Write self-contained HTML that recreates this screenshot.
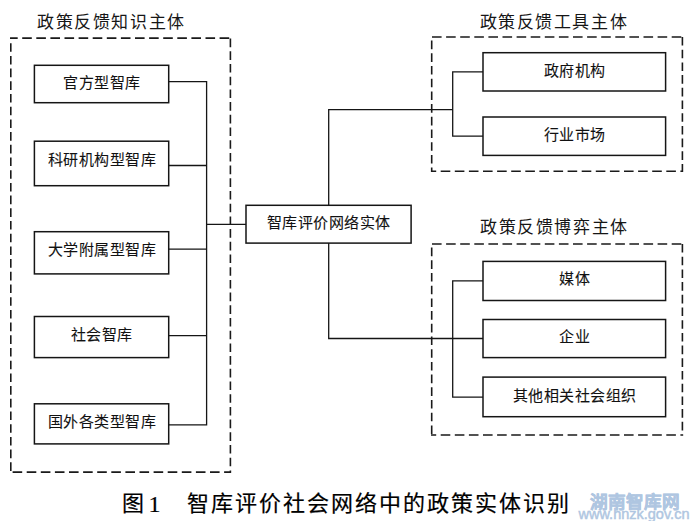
<!DOCTYPE html>
<html lang="zh-CN"><head><meta charset="utf-8">
<style>
html,body{margin:0;padding:0;background:#fff;}
body{width:693px;height:521px;position:relative;overflow:hidden;font-family:"Liberation Sans",sans-serif;color:#111;}
svg{position:absolute;left:0;top:0;}
.t{position:absolute;white-space:nowrap;text-align:center;font-size:15px;line-height:15px;letter-spacing:0.5px;text-indent:0.5px;-webkit-text-stroke:0.1px #111;}
.h{position:absolute;white-space:nowrap;font-family:"Liberation Serif",serif;font-size:17px;line-height:17px;letter-spacing:1.6px;color:#161616;}
.cap{position:absolute;white-space:nowrap;font-size:21px;line-height:21px;color:#000;-webkit-text-stroke:0.2px #000;}
.wm{position:absolute;white-space:nowrap;color:#afc6e1;font-weight:bold;}
</style></head><body>
<svg width="693" height="521" viewBox="0 0 693 521">
<g fill="none" stroke="#1a1a1a" stroke-width="1.6">
<path d="M10.1 38.1H17.7M22.2 38.1H31.8M36.3 38.1H45.9M50.4 38.1H60.0M64.5 38.1H74.1M78.6 38.1H88.2M92.7 38.1H102.3M106.8 38.1H116.4M120.9 38.1H130.5M135.0 38.1H144.6M149.1 38.1H158.7M163.2 38.1H172.8M177.3 38.1H186.9M191.4 38.1H201.0M205.5 38.1H215.1M219.6 38.1H229.2M12.6 472.1H22.2M26.7 472.1H36.3M40.8 472.1H50.4M54.9 472.1H64.5M69.0 472.1H78.6M83.1 472.1H92.7M97.2 472.1H106.8M111.3 472.1H120.9M125.4 472.1H135.0M139.5 472.1H149.1M153.6 472.1H163.2M167.7 472.1H177.3M181.8 472.1H191.4M195.9 472.1H205.5M210.0 472.1H219.6M224.1 472.1H231.1M10.8 37.4V39.1M10.8 43.2V51.8M10.8 55.9V64.5M10.8 68.6V77.2M10.8 81.3V89.9M10.8 94.0V102.6M10.8 106.7V115.3M10.8 119.4V128.0M10.8 132.1V140.7M10.8 144.8V153.4M10.8 157.5V166.1M10.8 170.2V178.8M10.8 182.9V191.5M10.8 195.6V204.2M10.8 208.3V216.9M10.8 221.0V229.6M10.8 233.7V242.3M10.8 246.4V255.0M10.8 259.1V267.7M10.8 271.8V280.4M10.8 284.5V293.1M10.8 297.2V305.8M10.8 309.9V318.5M10.8 322.6V331.2M10.8 335.3V343.9M10.8 348.0V356.6M10.8 360.7V369.3M10.8 373.4V382.0M10.8 386.1V394.7M10.8 398.8V407.4M10.8 411.5V420.1M10.8 424.2V432.8M10.8 436.9V445.5M10.8 449.6V458.2M10.8 462.3V470.9M230.4 38.6V47.2M230.4 51.3V59.9M230.4 64.0V72.6M230.4 76.7V85.3M230.4 89.4V98.0M230.4 102.1V110.7M230.4 114.8V123.4M230.4 127.5V136.1M230.4 140.2V148.8M230.4 152.9V161.5M230.4 165.6V174.2M230.4 178.3V186.9M230.4 191.0V199.6M230.4 203.7V212.3M230.4 216.4V225.0M230.4 229.1V237.7M230.4 241.8V250.4M230.4 254.5V263.1M230.4 267.2V275.8M230.4 279.9V288.5M230.4 292.6V301.2M230.4 305.3V313.9M230.4 318.0V326.6M230.4 330.7V339.3M230.4 343.4V352.0M230.4 356.1V364.7M230.4 368.8V377.4M230.4 381.5V390.1M230.4 394.2V402.8M230.4 406.9V415.5M230.4 419.6V428.2M230.4 432.3V440.9M230.4 445.0V453.6M230.4 457.7V466.3M230.4 470.4V472.8M432.0 37H441.6M446.1 37H455.7M460.2 37H469.8M474.3 37H483.9M488.4 37H498.0M502.5 37H512.1M516.6 37H526.2M530.7 37H540.3M544.8 37H554.4M558.9 37H568.5M573.0 37H582.6M587.1 37H596.7M601.2 37H610.8M615.3 37H624.9M629.4 37H639.0M643.5 37H653.1M657.6 37H667.2M671.7 37H681.3M431.0 171.2H436.2M440.7 171.2H450.3M454.8 171.2H464.4M468.9 171.2H478.5M483.0 171.2H492.6M497.1 171.2H506.7M511.2 171.2H520.8M525.3 171.2H534.9M539.4 171.2H549.0M553.5 171.2H563.1M567.6 171.2H577.2M581.7 171.2H591.3M595.8 171.2H605.4M609.9 171.2H619.5M624.0 171.2H633.6M638.1 171.2H647.7M652.2 171.2H661.8M666.3 171.2H675.9M680.4 171.2H683.1M431.7 40.6V49.2M431.7 53.3V61.9M431.7 66.0V74.6M431.7 78.7V87.3M431.7 91.4V100.0M431.7 104.1V112.7M431.7 116.8V125.4M431.7 129.5V138.1M431.7 142.2V150.8M431.7 154.9V163.5M431.7 167.6V171.9M682.4 37.0V45.6M682.4 49.7V58.3M682.4 62.4V71.0M682.4 75.1V83.7M682.4 87.8V96.4M682.4 100.5V109.1M682.4 113.2V121.8M682.4 125.9V134.5M682.4 138.6V147.2M682.4 151.3V159.9M682.4 164.0V171.9M432.0 244H441.6M446.1 244H455.7M460.2 244H469.8M474.3 244H483.9M488.4 244H498.0M502.5 244H512.1M516.6 244H526.2M530.7 244H540.3M544.8 244H554.4M558.9 244H568.5M573.0 244H582.6M587.1 244H596.7M601.2 244H610.8M615.3 244H624.9M629.4 244H639.0M643.5 244H653.1M657.6 244H667.2M671.7 244H681.3M431.0 435H436.2M440.7 435H450.3M454.8 435H464.4M468.9 435H478.5M483.0 435H492.6M497.1 435H506.7M511.2 435H520.8M525.3 435H534.9M539.4 435H549.0M553.5 435H563.1M567.6 435H577.2M581.7 435H591.3M595.8 435H605.4M609.9 435H619.5M624.0 435H633.6M638.1 435H647.7M652.2 435H661.8M666.3 435H675.9M680.4 435H683.1M431.7 247.6V256.2M431.7 260.3V268.9M431.7 273.0V281.6M431.7 285.7V294.3M431.7 298.4V307.0M431.7 311.1V319.7M431.7 323.8V332.4M431.7 336.5V345.1M431.7 349.2V357.8M431.7 361.9V370.5M431.7 374.6V383.2M431.7 387.3V395.9M431.7 400.0V408.6M431.7 412.7V421.3M431.7 425.4V434.0M682.4 244.0V252.6M682.4 256.7V265.3M682.4 269.4V278.0M682.4 282.1V290.7M682.4 294.8V303.4M682.4 307.5V316.1M682.4 320.2V328.8M682.4 332.9V341.5M682.4 345.6V354.2M682.4 358.3V366.9M682.4 371.0V379.6M682.4 383.7V392.3M682.4 396.4V405.0M682.4 409.1V417.7M682.4 421.8V430.4M682.4 434.5V435.7"/>
</g>
<g fill="none" stroke="#151515" stroke-width="1.5">
<rect x="34.4" y="65.3" width="134.3" height="37.4"/>
<rect x="34.4" y="141.2" width="134.3" height="44.5"/>
<rect x="34.4" y="231.7" width="134.3" height="42.2"/>
<rect x="34.4" y="316.5" width="134.3" height="41.1"/>
<rect x="34.4" y="403.8" width="134.3" height="40.1"/>
<rect x="246" y="205.3" width="165.1" height="37.8"/>
<rect x="483" y="52.7" width="182.6" height="38.3"/>
<rect x="483" y="117" width="182.6" height="38.4"/>
<rect x="483" y="261.4" width="182.6" height="39.1"/>
<rect x="483" y="319.5" width="182.6" height="38.1"/>
<rect x="483" y="377.1" width="182.6" height="39.6"/>
</g>
<g fill="none" stroke="#151515" stroke-width="1.3">
<path d="M168.7 81.7H206.6V424.9H168.7"/>
<path d="M168.7 165.5H206.6M168.7 249.2H206.6M168.7 335.6H206.6M206.6 224.3H246"/>
<path d="M483 71.9H452.7V136.1H483M328.7 205.3V109.6H452.7"/>
<path d="M328.7 243.1V338.5H483M483 280.9H452.7V397.2H483"/>
</g>
</svg>
<div class="h" style="left:37px;top:14.3px">政策反馈知识主体</div>
<div class="h" style="left:479.5px;top:14.3px">政策反馈工具主体</div>
<div class="h" style="left:480px;top:219.3px">政策反馈博弈主体</div>

<div class="t" style="left:34px;top:75px;width:135px">官方型智库</div>
<div class="t" style="left:34px;top:151.5px;width:135px">科研机构型智库</div>
<div class="t" style="left:34px;top:242px;width:135px">大学附属型智库</div>
<div class="t" style="left:34px;top:326.5px;width:135px">社会智库</div>
<div class="t" style="left:34px;top:414px;width:135px">国外各类型智库</div>
<div class="t" style="left:246px;top:215px;width:165px">智库评价网络实体</div>
<div class="t" style="left:483px;top:63px;width:183px">政府机构</div>
<div class="t" style="left:483px;top:126.75px;width:183px">行业市场</div>
<div class="t" style="left:483px;top:271px;width:183px">媒体</div>
<div class="t" style="left:483px;top:329px;width:183px">企业</div>
<div class="t" style="left:483px;top:388px;width:183px">其他相关社会组织</div>

<div class="cap" style="left:121.5px;top:493px;font-size:22px;line-height:22px">图</div>
<div class="cap" style="left:148.5px;top:491.5px;font-size:24px;line-height:24px;font-family:'Liberation Serif',serif">1</div>
<div class="cap" style="left:187px;top:493px;font-size:22px;line-height:22px;letter-spacing:2px">智库评价社会网络中的政策实体识别</div>

<div class="wm" style="left:590px;top:492.7px;font-size:17.6px;line-height:18px;-webkit-text-stroke:0.5px #afc6e1">湖南智库网</div>
<div class="wm" style="left:578.5px;top:507px;font-size:14.5px;line-height:15px;font-weight:normal;-webkit-text-stroke:0.45px #afc6e1">www.hnzk.gov.cn</div>
</body></html>
